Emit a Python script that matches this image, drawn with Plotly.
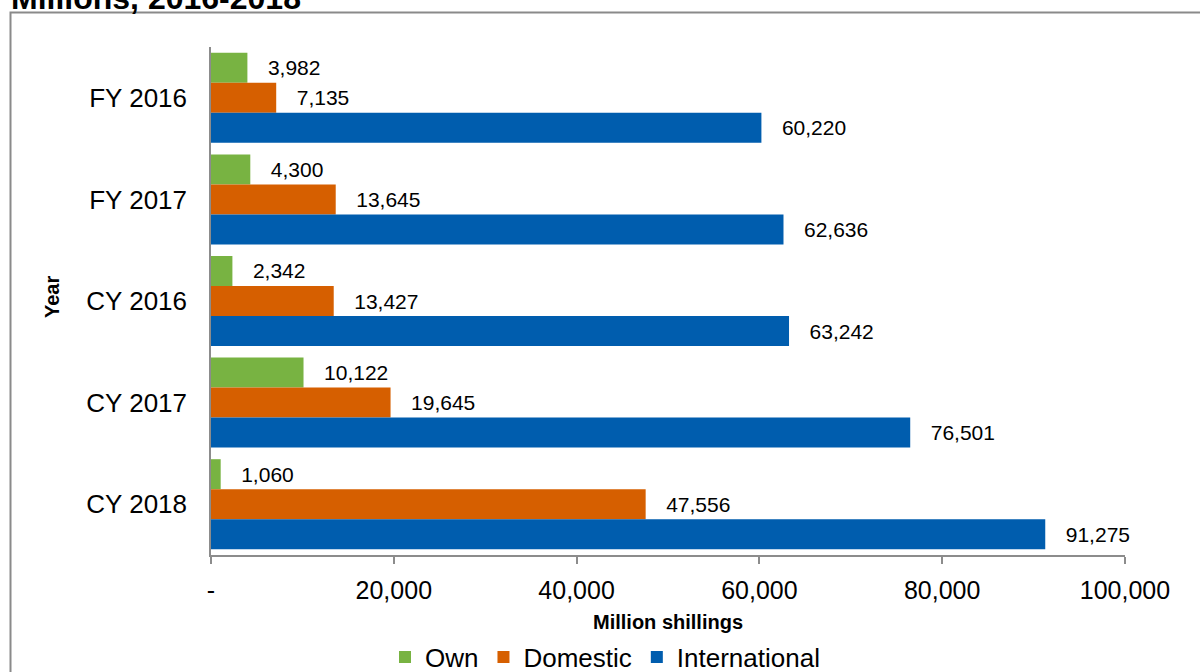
import plotly.graph_objects as go

years = ["FY 2016", "FY 2017", "CY 2016", "CY 2017", "CY 2018"]
own = [3982, 4300, 2342, 10122, 1060]
domestic = [7135, 13645, 13427, 19645, 47556]
international = [60220, 62636, 63242, 76501, 91275]
series_names = ["Own", "Domestic", "International"]
x_ticks = [0, 20000, 40000, 60000, 80000, 100000]
x_ticktext = ["-", "20,000", "40,000", "60,000", "80,000", "100,000"]

W, H = 1200, 672
L, R, T, B = 211, 75, 47, 117
PW, PH = W - L - R, H - T - B


def px_x(p):
    return (p - L) / PW


def px_y(p):
    return (H - B - p) / PH


colors = ["#78B342", "#D65F00", "#005DAE"]
font = "Liberation Sans, Arial, sans-serif"

fig = go.Figure()
for name, vals, c in zip(series_names, [own, domestic, international], colors):
    fig.add_trace(go.Bar(
        name=name, y=years, x=vals, orientation="h",
        marker=dict(color=c, line=dict(width=0)),
        texttemplate="\u00a0\u00a0\u00a0%{x:,}",
        textposition="outside", constraintext="none", cliponaxis=False,
        textfont=dict(size=21, color="#000", family=font),
    ))

fig.update_layout(
    width=W, height=H,
    margin=dict(l=L, r=R, t=T, b=B, autoexpand=False),
    paper_bgcolor="white", plot_bgcolor="white",
    barmode="group", bargap=0.114, bargroupgap=0,
    font=dict(family=font, color="#000"),
    showlegend=True,
    legend=dict(orientation="h", x=px_x(605), xanchor="center", y=px_y(657), yanchor="middle",
                font=dict(size=26, family=font), traceorder="normal", itemwidth=30),
    xaxis=dict(range=[0, 100000], tickvals=x_ticks, ticktext=x_ticktext,
               showgrid=False, zeroline=False, showline=True, linecolor="#8c8c8c", linewidth=1.5,
               ticks="outside", ticklen=7, tickcolor="#8c8c8c", tickwidth=1.5,
               tickfont=dict(size=25, family=font), ticklabelstandoff=5),
    yaxis=dict(autorange="reversed", showgrid=False, zeroline=False, showline=True,
               linecolor="#8c8c8c", linewidth=1.5, ticks="",
               tickfont=dict(size=26, family=font), ticklabelstandoff=17),
)

fig.add_annotation(text="<b>Million shillings</b>", xref="paper", yref="paper",
                   x=px_x(668), y=px_y(622), xanchor="center", yanchor="middle",
                   showarrow=False, font=dict(size=20, family=font))
fig.add_annotation(text="<b>Year</b>", xref="paper", yref="paper", textangle=-90,
                   x=px_x(52), y=px_y(297), xanchor="center", yanchor="middle",
                   showarrow=False, font=dict(size=20, family=font))
fig.add_annotation(text="<b>Millions, 2016-2018</b>", xref="paper", yref="paper",
                   x=px_x(9), y=px_y(-2), xanchor="left", yanchor="middle",
                   showarrow=False, font=dict(size=32, family=font))

fig.add_shape(type="rect", xref="paper", yref="paper",
              x0=px_x(10.5), x1=px_x(1215), y0=px_y(700), y1=px_y(12.5),
              line=dict(color="#8a8a8a", width=2), fillcolor="rgba(0,0,0,0)", layer="below")

fig.write_html("out.html")
